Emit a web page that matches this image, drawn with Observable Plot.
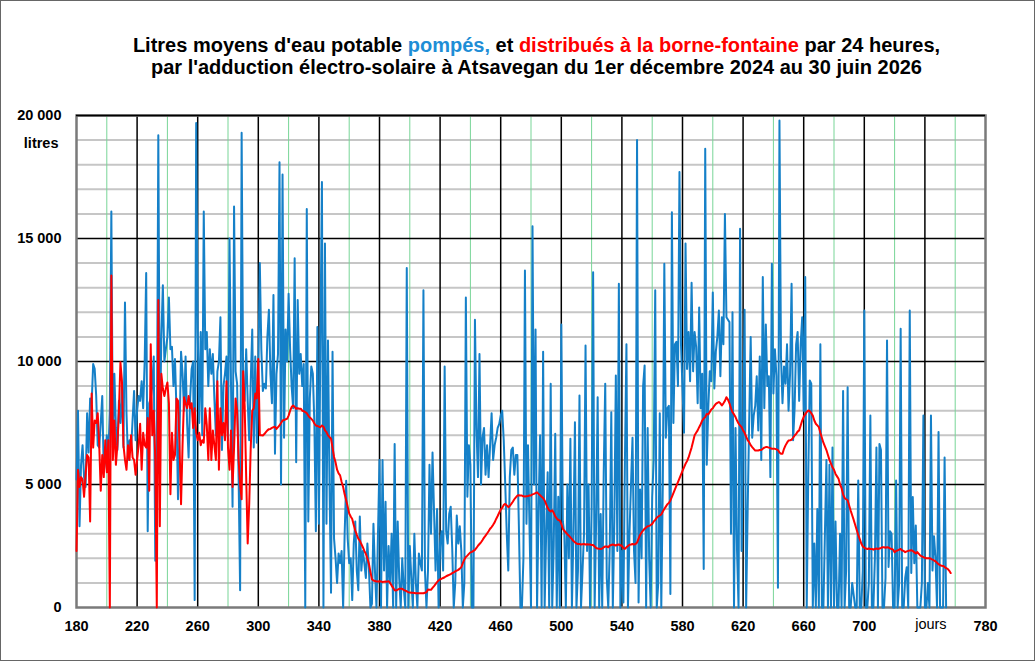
<!DOCTYPE html>
<html><head><meta charset="utf-8">
<script src="https://cdn.jsdelivr.net/npm/d3@7"></script>
<script src="https://cdn.jsdelivr.net/npm/@observablehq/plot@0.6"></script>
<style>
body{margin:0;background:#fff;}
#wrap{position:relative;width:1035px;height:661px;overflow:hidden;font-family:"Liberation Sans",Arial,sans-serif;background:#fff;}
#border{position:absolute;left:0;top:0;width:1033px;height:659px;border:1px solid #666;pointer-events:none;}
#title{position:absolute;left:19px;top:34px;width:1035px;text-align:center;font-weight:bold;font-size:20px;line-height:22px;color:#000;}
#chart{position:absolute;left:0;top:95px;}
</style></head>
<body>
<div id="wrap">
<div id="title">Litres moyens d'eau potable <span style="color:#1e8ed6">pompés,</span> et <span style="color:#ff0000">distribués à la borne-fontaine</span> par 24 heures,<br>par l'adduction électro-solaire à Atsavegan du 1er décembre 2024 au 30 juin 2026</div>
<div id="chart"></div>
<div id="border"></div>
</div>
<script>
// Litres pompés par jour (jour de départ indiqué dans le nom)
const pompes180 = [5200,8000,3300,5800,6600,5300,4900,7900,6300,8500,
8300,9900,9700,8600,6600,6500,7500,8600,5500,6000,
7000,6200,8000,16100,6500,9500,7300,6400,8400,7500,
9000,6500,12400,7900,6000,6800,6400,7600,8800,6800,
8000,8600,8400,9200,8100,10000,13600,3100,8300,8500,
9000,10200,1900,6000,19200,6900,11000,13100,10000,10500,
11000,12600,10500,10600,9000,10100,8000,4400,7000,10400,
9500,8000,10200,7500,6100,8500,9700,10000,300,19700,
11300,7500,11200,7000,16100,10500,11200,9000,10500,9500,
10300,8500,7000,9600,10000,11800,6400,9000,9500,10200,
6800,15000];
const pompes282 = [9000,4100,16300,9600,9100,5300,700,19300,9000,8400,
10500,8400,6800,9200,11300,6500,10200,6700,9500,14000,
10500,8800,9100,8900,11000,12100,9500,8300,12700,6250,
9500,10300,18100,5000,17600,6900,11300,10000,12750,10500,
9000,8100,14200,5900,12500,9500,10300,9000,9900,0,
16200,3500,8500,9800,9500,7500,3100,11400,3400,11000,
17300,0,14800,3400,10850,5000,600,10400,2800,2000,
1000,2200,1800,2300,0,3000,5150,2800,1800,2000,
300,2600,3500,1500,700,3700,1500,2300,1800,1200,
2600,1600,0,150,3400,1500,0,3000,6000,0];
const pompes382 = [6000,1500,4300,0,2500,1000,3000,0,6650,0,
3500,1200,0,2000,800,0,13800,0,2500,1200,
0,3000,1000,0,2200,1800,1500,12900,1500,0,
1500,5800,3000,6300,3900,1500,4000,0,2600,3100,
1500,9800,3100,2600,3800,4100,2400,0,1000,3740,
2600,3300,2300,0,1000,12600,4500,6600,5800,0,
0,11700,7300,5300,10300,5000,6900,7300,5400,6600,
5300,6600,7900,6000,6600,6900,7300,7450,7800,8000,
6800,5000,3000,1500,5300,6400,6500,5400,6200,6200,
3300,0,0,2000,13700,3400,6600,3300,0,15500,
5000];
const pompes483 = [11300,0,4000,7000,0,10400,0,3000,5500,0,
9100,0,2500,7060,0,4500,0,11500,3500,3000,
0,5000,2000,6860,0,3000,7530,0,1500,8620,
0,1500,3000,10650,2300,5000,0,4000,13630,0,
3500,8550,0,3800,0,5500,9100,1200,0,2500,
7940,0,3500,9430,2300,13160,0,2300,200,6000,
10700,0,3000,5000,6900,2300,1000,19000,200,4800,
2000,9000,9840,0,7300,2000,0,4500,6000,12900,
0,1000,7900,0,5000,13970,6900,8100,8200,550,
16070,7500,10700,10800,9000,17700,10700,8900,7100,14800];
const pompes583 = [9700,11200,9200,13200,9600,11200,10600,8300,12200,8100,
9500,1570,18650,5800,8100,9600,9200,12800,8900,10400,
11000,12070,9400,11800,10700,16000,11800,11700,11600,3000,
12000,0,7300,2300,0,15400,2300,7000,12100,0,
3900,7500,11000,6900,7800,8200,9400,7200,10200,6000,
13430,8100,11500,9000,9400,5300,13970,8700,10500,9400,
800,19800,10200,8300,9800,9100,10700,8000,9500,13160,
6800,8100,10700,11200,8400,10700,11800,8000,13430,0,
5300,9230,9100,0,2600,0,4000,0,10700,0,
0,3000,6000,0,5800,0,6500,0,3500,0];
const pompes683 = [0,3000,0,8800,0,1500,8950,0,0,1000,
500,0,0,5160,0,0,1500,12070,0,0,
1000,7800,0,0,2000,6500,0,6650,6400,0,
0,1200,10850,1650,3100,3000,0,0,5160,0,
1000,11330,0,0,1200,1640,0,12070,1400,4490,
1800,3330,0,0,0,1000,7800,0,0,1000,
0,7800,1500,2900,2000,0,7130,0,0,0,
6100,0];

// Litres distribués à la borne-fontaine
const distrib180 = [2300,5600,4900,5300,5200,4500,5400,6200,6100,3500,
8700,6500,7600,7500,7900,6600,4750,6200,5300,6800,
5500,6800,0,13500,6000,7600,5800,6600,8000,9970,
9200,6600,6000,5600,6600,6000,7000,6100,6000,5400,
6000,6600,7470,5600,7100,6600,6500,7700,4750,10700,
7000,8000,6000,0,12500,3300,9500,8900,8600,8900,
9150,8300,4600,7100,6000,6200,8500,8400,6600,4200,
6600,8550,8300,8100,8600,8100,8300,7300,8100,7100,
6800,7100,6600,6800,6700,8100,7400,6000,8100,6000,
7200,6600,6000,9200,5600,8100,
7000,7500,6800,9200,6500,5600,7200,4900,6500,8500,
8000,6000,5000,4400,9600,8200,5300,2600,4200,6500,
8000,8100,8700,8500,10100];
const distrib301 = [7000,7000,6990,7050,7130,7200,7250,7260,7300,7330,
7350,7260,7330,7400,7500,7600,7620,7650,7670,7800,
8000,8150,8210,8150,8080,8100,8080,8080,8000,7980,
7940,7900,7800,7720,7670,7600,7480,7400,7380,7350,
7330,7400,7350,7200,7130,7000,6930,6860,6500,6120,
5900,5600,5450,5370,5100,4900,4600,4360,4100,3820,
3700,3600,3350,3130,2950,2800,2720,2580,2450,2300,
2180,2000,1780,1450,1150,1100,1080,1060,1060,1070,1060];
const distrib382 = [1030,1050,1060,1050,1070,1000,890,800,700,690,
730,760,760,760,720,690,660,620,610,600,
600,590,580,580,580,580,580,580,600,620,
730,725,720,800,870,950,1030,1100,1150,1170,
1200,1230,1270,1300,1330,1360,1400,1430,1470,1500,
1530,1580,1640,1800,1950,2050,2110,2180,2240,2260,
2300,2340,2420,2510,2580,2650,2740,2840,2920,3010,
3100,3200,3270,3360,3460,3600,3720,3850,3980,4050,
4170,4210,4150,4080,4130,4210,4300,4400,4480,4550,
4560,4550,4550,4520,4510,4520,4530,4550,4550,4600,4620];
const distrib483 = [4650,4680,4620,4560,4500,4450,4350,4200,4050,3950,
3900,3950,3850,3700,3620,3560,3540,3400,3200,3120,
3050,2980,2920,2850,2780,2700,2650,2600,2580,2580,
2560,2570,2580,2560,2570,2560,2560,2540,2540,2480,
2420,2400,2390,2380,2400,2450,2480,2480,2450,2520,
2540,2560,2540,2520,2550,2560,2530,2500,2420,2380,
2450,2500,2550,2560,2580,2560,2580,2640,2800,2950,
3050,3130,3200,3250,3300,3320,3350,3400,3500,3560,
3650,3700,3740,3780,3900,4000,4100,4200,4250,4350,
4500,4650,4800,4950,5100,5250,5400,5550,5700,5840];
const distrib583 = [5950,6100,6300,6500,6750,7000,7100,7200,7330,7450,
7600,7680,7740,7870,7850,7950,8050,8100,8200,8280,
8320,8350,8300,8210,8300,8400,8550,8450,8300,8100,
7940,7850,7740,7600,7480,7400,7330,7200,7100,6950,
6800,6720,6600,6520,6450,6380,6380,6380,6400,6400,
6450,6500,6520,6520,6500,6480,6450,6450,6450,6430,
6400,6300,6250,6250,6450,6590,6700,6790,6800,6820,
6900,6990,7050,7150,7200,7400,7600,7750,7850,7950,
8010,7980,7900,7800,7600,7470,7400,7330,7100,6900,
6700,6550,6400,6200,6000,5850,5700,5600,5430,5330,5230];
const distrib684 = [5000,4850,4600,4450,4400,4360,4150,3940,3750,3560,
3350,3150,2950,2780,2600,2480,2430,2400,2380,2400,
2380,2380,2350,2380,2400,2380,2400,2420,2450,2450,
2430,2450,2440,2400,2380,2350,2250,2300,2320,2350,
2380,2320,2300,2250,2280,2300,2320,2330,2300,2250,
2200,2250,2180,2110,2080,2050,2020,2000,2000,2000,
1980,1950,1910,1880,1820,1760,1720,1700,1690,1650,
1600,1570,1500,1400];

// Axes / graduations
const xTicks = [180,220,260,300,340,380,420,460,500,540,580,620,660,700,780];
const xTickLabels = ["180","220","260","300","340","380","420","460","500","540","580","620","660","700","780"];
const xGridBlack = [220,260,300,340,380,420,460,500,540,580,620,660,700,740];
const xGridGreen = [200,240,280,320,360,400,440,480,520,560,600,640,680,720,760];
const yTicks = [0,5000,10000,15000,20000];
const yTickLabels = ["0","5 000","10 000","15 000","20 000"];
const yGridMinor = [1000,2000,3000,4000,6000,7000,8000,9000,11000,12000,13000,14000,16000,17000,18000,19000];
const yGridMajor = [5000,10000,15000,20000];

function rows(start, arr){ return arr.map((v,i)=>({jour:start+i, litres:v})); }
const pompes = [].concat(rows(180,pompes180), rows(282,pompes282), rows(382,pompes382),
  rows(483,pompes483), rows(583,pompes583), rows(683,pompes683));
const distrib = [].concat(rows(180,distrib180), rows(301,distrib301), rows(382,distrib382),
  rows(483,distrib483), rows(583,distrib583), rows(684,distrib684));

const chart = Plot.plot({
  width: 1035, height: 566,
  marginLeft: 76, marginRight: 50, marginTop: 20, marginBottom: 54,
  x: {domain: [180, 780]},
  y: {domain: [0, 20000]},
  style: {fontFamily: "'Liberation Sans', Arial, sans-serif", fontSize: "14.5px", fontWeight: "bold", color: "#000", background: "transparent", overflow: "visible"},
  marks: [
    Plot.ruleY(yGridMinor, {stroke: "#c6c6c6", strokeWidth: 2}),
    Plot.ruleX(xGridGreen, {stroke: "#78d597", strokeWidth: 1}),
    Plot.ruleX(xGridBlack, {stroke: "#000", strokeWidth: 1.5}),
    Plot.ruleY(yGridMajor, {stroke: "#000", strokeWidth: 1.5}),
    Plot.frame({stroke: "#7a7a7a", strokeWidth: 2.5}),
    Plot.ruleY([20000], {stroke: "#000", strokeWidth: 1.5}),
    Plot.line(pompes, {x: "jour", y: "litres", stroke: "#1580c8", strokeWidth: 2}),
    Plot.line(distrib, {x: "jour", y: "litres", stroke: "#ff0000", strokeWidth: 2}),
    Plot.axisY({ticks: yTicks, tickFormat: d => yTickLabels[yTicks.indexOf(d)], tickSize: 0, tickPadding: 15, label: null}),
    Plot.axisX({ticks: xTicks, tickFormat: d => xTickLabels[xTicks.indexOf(d)], tickSize: 0, tickPadding: 13, label: null}),
    Plot.text(["litres"], {frameAnchor: "top-left", dx: -18, dy: 22, textAnchor: "end"}),
    Plot.text(["jours"], {x: [740], frameAnchor: "bottom", dx: 6, dy: 21, fontWeight: "normal"})
  ]
});
document.getElementById("chart").appendChild(chart);
</script>
</body></html>
